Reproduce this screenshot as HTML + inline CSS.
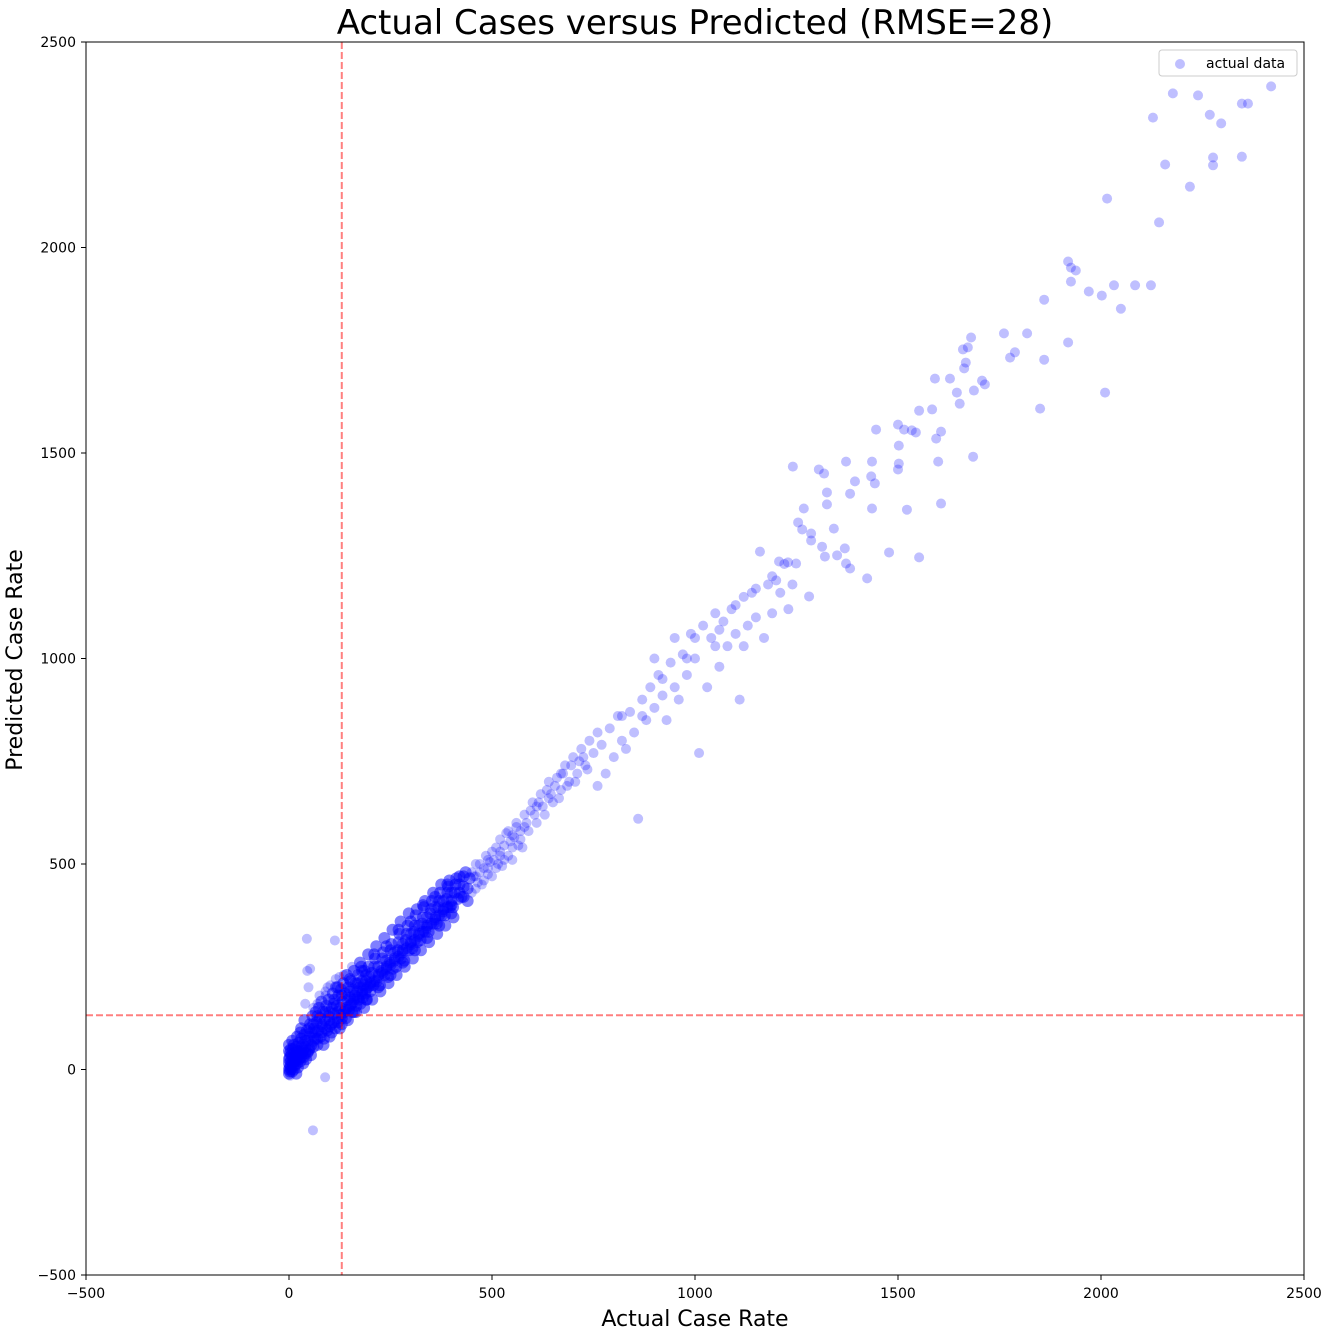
<!DOCTYPE html>
<html><head><meta charset="utf-8">
<style>
html,body{margin:0;padding:0;background:#fff;}
svg{display:block;font-family:"DejaVu Sans","Liberation Sans",sans-serif;}
</style></head>
<body>
<svg id="chart" width="1327" height="1333" viewBox="0 0 1327 1333">
<text x="695" y="34" font-size="34" text-anchor="middle" fill="#000">Actual Cases versus Predicted (RMSE=28)</text>
<text x="695" y="1326" font-size="22" text-anchor="middle" fill="#000">Actual Case Rate</text>
<text transform="translate(22,660) rotate(-90)" font-size="22" text-anchor="middle" fill="#000">Predicted Case Rate</text>
<g id="ticks"></g>
<g id="marks"></g>
<g id="refs"></g>
<rect x="86" y="42" width="1218" height="1233" fill="none" stroke="#000" stroke-width="1"/>
<g>
<rect x="1159" y="50" width="138" height="26" rx="3" fill="#fff" stroke="#ccc"/>
<circle cx="1180" cy="64" r="5" fill="rgba(0,0,255,0.25)"/>
<text x="1206" y="68" font-size="14" fill="#000">actual data</text>
</g>
</svg>
<script>
const xTicks = [-500, 0, 500, 1000, 1500, 2000, 2500];
const yTicks = [-500, 0, 500, 1000, 1500, 2000, 2500];
const refX = 130;
const refY = 132;
const points = [
[2419,2392],[2347,2350],[2362,2350],[2239,2370],[2177,2375],[2128,2316],[2268,2323],[2296,2302],[2158,2202],[2347,2221],[2276,2219],[2276,2200],[2219,2148],[2143,2061],[2015,2119],
[1919,1966],[1926,1951],[1938,1944],[1926,1917],[1860,1873],[1970,1893],[2002,1883],[2032,1908],[2049,1851],[2084,1908],[2123,1908],[1919,1769],[2010,1647],[1850,1608],[1860,1727],
[1761,1791],[1818,1791],[1788,1745],[1776,1732],[1680,1781],[1672,1757],[1660,1752],[1667,1720],[1707,1676],[1714,1667],[1687,1652],[1663,1706],[1591,1681],[1628,1681],[1645,1647],
[1652,1620],[1584,1606],[1552,1603],[1500,1569],[1515,1557],[1534,1555],[1544,1550],[1606,1552],[1594,1535],[1446,1557],[1502,1518],[1436,1479],[1502,1474],[1500,1460],[1599,1479],
[1685,1491],[1372,1479],[1305,1460],[1318,1450],[1394,1431],[1382,1401],[1434,1443],[1443,1426],[1325,1404],[1325,1375],[1436,1365],[1522,1362],[1606,1377],[1241,1467],[1268,1365],
[1254,1331],[1264,1314],[1286,1304],[1342,1316],[1478,1258],[1552,1246],[1424,1195],[1382,1219],[1372,1231],[1350,1251],[1369,1268],[1313,1272],[1286,1287],[1320,1248],[1281,1151],
[1229,1234],[1207,1236],[1249,1231],
[770,790],[780,720],[790,830],[800,760],[810,860],[820,800],[830,780],[840,870],[850,820],[860,610],[870,900],[880,850],[890,930],[900,880],[910,960],[920,910],[930,850],[940,990],
[950,930],[960,900],[970,1010],[980,960],[990,1060],[1000,1000],[1010,770],[1020,1080],[1030,930],[1040,1050],[1050,1110],[1060,980],[1070,1090],[1080,1030],[1090,1120],[1100,1060],
[1110,900],[1120,1150],[1130,1080],[1140,1160],[1150,1100],[1160,1260],[1170,1050],[1180,1180],[1190,1110],[1200,1190],[1210,1160],[1220,1230],[1230,1120],[1240,1180],
[900,1000],[950,1050],[1000,1050],[760,690],[820,860],[870,860],[920,950],[980,1000],[1050,1030],[1100,1130],[1150,1170],[1190,1200],[1120,1030],[1060,1070],
[59,-148],[89,-19],[113,314],[44,318],
[2,5],[5,20],[8,-5],[3,40],[10,30],[15,10],[20,45],[12,60],[25,25],[30,55],[18,-10],[35,15],[40,70],[28,90],[45,40],[50,100],[38,120],[55,60],[60,150],[48,200],[52,245],[45,240],
[65,90],[70,130],[75,180],[80,110],[85,60],[90,140],[95,200],[100,120],[105,90],[110,160],[115,220],[120,140],[125,100],[130,180],[135,230],[140,150],[145,120],[150,190],[155,250],
[160,170],[165,140],[170,210],[175,260],[180,190],[185,150],[190,230],[195,280],[200,210],[205,170],[210,250],[215,300],[220,230],[225,190],[230,270],[235,320],[240,250],[245,210],
[250,290],[255,340],[260,270],[265,230],[270,310],[275,360],[280,290],[285,250],[290,330],[295,380],[300,310],[305,270],[310,350],[315,390],[320,330],[325,290],[330,370],[335,410],
[340,350],[345,310],[350,390],[355,430],[360,370],[365,330],[370,410],[375,450],[380,390],[385,350],[390,430],[395,460],[400,410],[405,370],[410,450],[420,430],[430,470],[440,410],
[450,480],[460,440],[470,500],[480,460],[490,510],[500,530],[510,490],[520,560],[530,510],[540,580],[550,540],[560,600],[570,560],[580,620],[590,580],[600,650],[610,600],[620,670],
[630,620],[640,700],[650,650],[660,710],[670,680],[680,740],[690,700],[700,760],[710,720],[720,780],[730,740],[740,800],[750,770],[760,820],
[5,0],[10,10],[15,25],[20,15],[25,35],[30,30],[35,45],[40,40],[50,50],[60,70],[70,75],[80,90],[90,100],[100,105],[110,115],[120,125],[130,135],[140,145],[150,155],[160,165],
[170,175],[180,185],[190,195],[200,205],[210,215],[220,225],[230,235],[240,245],[250,255],[260,265],[270,275],[280,285],[290,295],[300,305],[310,315],[320,325],[330,335],
[340,345],[350,355],[360,365],[370,375],[380,385],[390,395],[400,400],[0,-10],[2,30],[0,60],[5,50],[0,15],[3,-15],[8,70],[20,80],[30,100],[60,110],[70,160],[40,160],[90,180],
[120,200],[150,220],[180,240],[210,280],[240,300],[270,340],[300,360],[330,400],[360,420],[390,450],[420,470],[100,80],[130,110],[160,140],[190,170],[220,200],[250,230],[280,260],
[310,290],[340,320],[370,350],[400,380],[430,420],[460,470],[490,490],[520,520],[550,570],[580,590],[610,640],[640,660],[670,720],
[0,0],[0,25],[0,45],[2,-5],[4,10],[6,35],[8,15],[10,50],[12,0],[14,40],[16,20],[18,55],[20,30],[22,5],[24,65],[26,45],[28,20],[30,75],[32,40],[34,60],[36,30],[38,85],[40,55],
[42,25],[44,95],[46,70],[48,45],[50,80],[52,110],[54,35],[56,90],[58,130],[60,55],[62,100],[64,75],[66,140],[68,115],[70,60],[72,95],[74,150],[76,125],[78,80],[80,165],[82,105],
[84,140],[86,75],[88,120],[90,190],[92,155],[94,95],[96,130],[98,170],[100,140],[102,205],[104,110],[106,150],[108,185],[110,135],[112,170],[114,100],[116,200],[118,155],[120,115],
[122,180],[124,225],[126,150],[128,195],[130,125],[132,165],[134,210],[136,140],[138,185],[140,125],[142,230],[144,170],[146,200],[148,145],[150,175],[152,215],[154,160],[156,140],
[158,195],[160,240],[162,180],[164,210],[166,155],[168,190],[170,230],[172,170],[174,200],[176,160],[178,250],[180,215],[182,175],[184,205],[186,240],[188,185],[190,215],[192,170],
[194,200],[196,250],[198,225],[200,190],[204,235],[208,205],[212,270],[216,215],[220,250],[224,205],[228,240],[232,285],[236,230],[240,265],[244,225],[248,260],[252,305],[256,245],
[260,285],[264,250],[268,290],[272,330],[276,270],[280,305],[284,265],[288,315],[292,350],[296,290],[300,330],[304,295],[308,335],[312,375],[316,310],[320,350],[324,315],[328,355],
[332,395],[336,335],[340,370],[344,335],[348,380],[352,410],[356,355],[360,395],[364,355],[368,395],[372,430],[376,375],[380,410],[384,375],[388,415],[392,445],[396,395],[400,430],
[404,395],[408,430],[412,465],[416,415],[420,450],[425,420],[430,445],[435,480],[440,440],[445,465],[450,430],[455,470],[460,500],[465,455],[470,480],[475,450],[480,490],[485,520],
[490,475],[495,505],[500,470],[505,510],[510,540],[515,500],[520,530],[525,495],[530,545],[535,575],[540,520],[545,555],[550,510],[555,565],[560,590],[565,545],[570,580],[575,540],
[585,600],[595,630],[605,620],[615,650],[625,640],[635,680],[645,670],[655,690],[665,660],[675,720],[685,690],[695,740],[705,700],[715,750],[725,760],[735,730]
];
const NS='http://www.w3.org/2000/svg';
const xs = v => 86 + (v + 500) * 1218 / 3000;
const ys = v => 1275 - (v + 500) * 1233 / 3000;
const tg = document.getElementById('ticks');
xTicks.forEach(t => {
  const l = document.createElementNS(NS,'line');
  l.setAttribute('x1', xs(t)); l.setAttribute('x2', xs(t));
  l.setAttribute('y1', 1275); l.setAttribute('y2', 1280);
  l.setAttribute('stroke', '#000');
  
  
  tg.appendChild(l);
  const tx = document.createElementNS(NS,'text');
  tx.setAttribute('x', xs(t)); tx.setAttribute('y', 1298);
  tx.setAttribute('font-size', '14'); tx.setAttribute('text-anchor', 'middle');
  tx.textContent = t < 0 ? '\u2212' + Math.abs(t) : t;
  
  
  tg.appendChild(tx);
});
yTicks.forEach(t => {
  const l = document.createElementNS(NS,'line');
  l.setAttribute('x1', 81); l.setAttribute('x2', 86);
  l.setAttribute('y1', ys(t)); l.setAttribute('y2', ys(t));
  l.setAttribute('stroke', '#000');
  
  
  tg.appendChild(l);
  const tx = document.createElementNS(NS,'text');
  tx.setAttribute('x', 76); tx.setAttribute('y', ys(t) + 5);
  tx.setAttribute('font-size', '14'); tx.setAttribute('text-anchor', 'end');
  tx.textContent = t < 0 ? '\u2212' + Math.abs(t) : t;
  
  
  tg.appendChild(tx);
});
const mg = document.getElementById('marks');
points.forEach(p => {
  const dense = p[0] < 450 && p[1] > -15 && Math.abs(p[1] - p[0] * 1.05 - 10) < 75;
  const c = document.createElementNS(NS,'circle');
  c.setAttribute('cx', xs(p[0])); c.setAttribute('cy', ys(p[1]));
  c.setAttribute('r', dense ? 6 : 5);
  c.setAttribute('fill', dense ? 'rgba(0,0,255,0.5)' : 'rgba(0,0,255,0.25)');
  
  
  mg.appendChild(c);
});
const rg = document.getElementById('refs');
const vl = document.createElementNS(NS,'line');
vl.setAttribute('x1', xs(refX)); vl.setAttribute('x2', xs(refX));
vl.setAttribute('y1', 42); vl.setAttribute('y2', 1275);
vl.setAttribute('stroke', 'rgba(255,0,0,0.5)'); vl.setAttribute('stroke-width', 2); vl.setAttribute('stroke-dasharray', '7,3');


rg.appendChild(vl);
const hl = document.createElementNS(NS,'line');
hl.setAttribute('x1', 86); hl.setAttribute('x2', 1304);
hl.setAttribute('y1', ys(refY)); hl.setAttribute('y2', ys(refY));
hl.setAttribute('stroke', 'rgba(255,0,0,0.5)'); hl.setAttribute('stroke-width', 2); hl.setAttribute('stroke-dasharray', '7,3');


rg.appendChild(hl);
</script>
</body></html>
